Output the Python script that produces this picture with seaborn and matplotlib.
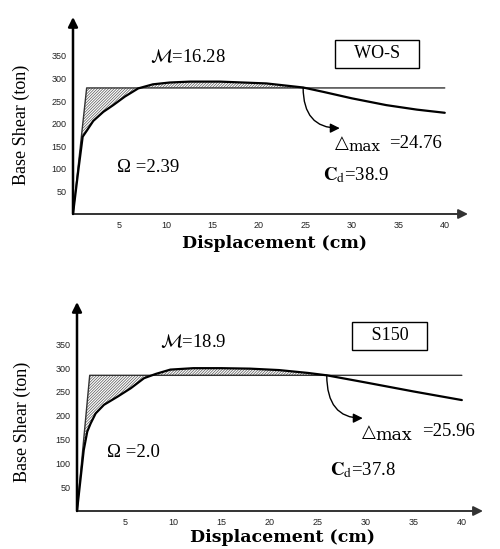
import numpy as np
import pandas as pd
import matplotlib
matplotlib.use("Agg")
import matplotlib.pyplot as plt
import seaborn as sns

# ---------------- data ----------------
# WO-S model
disp_wos = [0, 0.57, 1.04, 1.47, 2.18, 3.26, 4.33, 5.59, 7.02, 8.6, 10.4, 12.6, 15.8, 20.8,
            24.76, 27.0, 30.0, 33.7, 37.0, 40.0]
shear_wos = [0, 96, 171, 184, 206, 226, 241, 260, 278, 287, 291, 293, 293, 289,
             280, 270, 256, 241, 231, 224]
bilin_x_wos = [0, 1.47, 40]
bilin_y_wos = [0, 279, 279]

# S150 model
disp_s150 = [0, 0.7, 1.07, 1.42, 1.94, 2.8, 4.2, 5.6, 6.97, 8.2, 9.7, 12.1, 15.0, 18.0,
             21.0, 24.0, 25.96, 30.0, 35.0, 40.0]
shear_s150 = [0, 128, 167, 184, 205, 223, 240, 258, 279, 288, 297, 300, 300, 299,
              296, 290, 285, 270, 251, 233]
bilin_x_s150 = [0, 1.32, 40]
bilin_y_s150 = [0, 285, 285]

xticks = [5, 10, 15, 20, 25, 30, 35, 40]
yticks = [50, 100, 150, 200, 250, 300, 350]

panels = [
    dict(name="WO-S", x=disp_wos, y=shear_wos, bx=bilin_x_wos, by=bilin_y_wos,
         mu="16.28", omega="2.39", dmax=24.76, cd="38.9"),
    dict(name="S150", x=disp_s150, y=shear_s150, bx=bilin_x_s150, by=bilin_y_s150,
         mu="18.9", omega="2.0", dmax=25.96, cd="37.8"),
]

# ---------------- style ----------------
sns.set_style("white")
plt.rcParams["font.family"] = ["Liberation Serif", "DejaVu Serif"]
plt.rcParams["mathtext.fontset"] = "stix"
plt.rcParams["text.color"] = "black"
plt.rcParams["hatch.linewidth"] = 0.5
plt.rcParams["hatch.color"] = "#555555"

fig = plt.figure(figsize=(5.0, 5.49), dpi=100)

# layout (figure fractions)
ax_rects = [
    [73 / 500, 1 - 214 / 549, 395 / 500, 197 / 549],
    [77 / 500, 1 - 511 / 549, 406 / 500, 209 / 549],
]
xlims = [(0, 42.5), (0, 42.2)]
ylims = [(0, 436), (0, 439)]

# annotation placement (data coords) per panel
ann = [
    dict(mu=(8.3, 347), om=(4.7, 104), tri=(28.2, 157), mx=(29.6, 149), eq=(34.0, 157),
         cdp=(26.9, 86), box=(32.7, 355), arr=(28.7, 190)),
    dict(mu=(8.6, 355), om=(3.1, 122), tri=(29.6, 166), mx=(31.0, 158), eq=(35.9, 166),
         cdp=(26.3, 86), box=(32.5, 368), arr=(29.7, 195)),
]
max_size = [11, 12.5]
xlabel_pos = [(274 / 500, 1 - 243 / 549), (283 / 500, 1 - 537 / 549)]
ylabel_pos = [(21 / 500, 1 - 125 / 549), (22 / 500, 1 - 422 / 549)]

for i, p in enumerate(panels):
    ax = fig.add_axes(ax_rects[i])
    df = pd.DataFrame({"d": p["x"], "v": p["y"]})
    dfb = pd.DataFrame({"d": p["bx"], "v": p["by"]})
    sns.lineplot(data=dfb, x="d", y="v", ax=ax, color="#333333", lw=1.0, sort=False)
    sns.lineplot(data=df, x="d", y="v", ax=ax, color="black", lw=1.6, sort=False)

    # hatched area between bilinear idealisation and capacity curve
    xs = np.array(sorted(set(p["x"]) | set(p["bx"])), dtype=float)
    cy = np.interp(xs, p["x"], p["y"])
    by = np.interp(xs, p["bx"], p["by"])
    ax.fill_between(xs, cy, by, where=xs <= p["dmax"] + 1e-9, facecolor="none",
                    edgecolor="#555555", hatch="////////////", lw=0, interpolate=True)

    ax.set_xlim(*xlims[i])
    ax.set_ylim(*ylims[i])
    ax.set_xticks(xticks)
    ax.set_yticks(yticks)
    ax.set_xticklabels([str(t) for t in xticks], fontfamily="Liberation Sans", fontsize=6.5, color="#222222")
    ax.set_yticklabels([str(t) for t in yticks], fontfamily="Liberation Sans", fontsize=6.5, color="#222222")
    ax.tick_params(axis="x", direction="in", length=2, width=1, pad=5, color="#222222")
    ax.tick_params(axis="y", direction="out", length=3, width=0.8, pad=1.5, color="#222222")
    ax.set_xlabel("")
    ax.set_ylabel("")
    for s in ax.spines.values():
        s.set_visible(False)
    ax.patch.set_alpha(0)

    # axes with arrow heads
    ax.annotate("", xy=(1, 0), xytext=(0, 0), xycoords="axes fraction", textcoords="axes fraction",
                arrowprops=dict(arrowstyle="-|>", color="#333333", lw=1.4, mutation_scale=14,
                                shrinkA=0, shrinkB=0), annotation_clip=False)
    ax.annotate("", xy=(0, 1), xytext=(0, 0), xycoords="axes fraction", textcoords="axes fraction",
                arrowprops=dict(arrowstyle="-|>", color="black", lw=1.8, mutation_scale=14,
                                shrinkA=0, shrinkB=0), annotation_clip=False)

    a = ann[i]
    ax.text(*a["mu"], r"$\mathcal{M}$=" + p["mu"], fontsize=13.5, ha="left", va="center")
    ax.text(*a["om"], "Ω =" + p["omega"], fontsize=13.5, ha="left", va="center")
    ax.text(*a["tri"], "△", fontfamily="DejaVu Sans", fontsize=13, ha="left", va="center")
    ax.text(*a["mx"], "max", fontfamily="DejaVu Serif", fontsize=max_size[i], ha="left", va="center")
    ax.text(*a["eq"], "=" + f"{p['dmax']:.2f}", fontsize=13.5, ha="left", va="center")
    ax.text(*a["cdp"], r"$\mathbf{C}_{\mathrm{d}}$=" + p["cd"], fontsize=13.5, ha="left", va="center")
    ax.text(*a["box"], "   " + p["name"] + "   ", fontsize=13, ha="center", va="center",
            bbox=dict(boxstyle="square,pad=0.3", facecolor="white", edgecolor="black", lw=1))
    ax.annotate("", xy=a["arr"], xytext=(p["dmax"], np.interp(p["dmax"], p["x"], p["y"])),
                arrowprops=dict(arrowstyle="-|>", color="black", lw=1.0, mutation_scale=14,
                                shrinkA=0, shrinkB=0,
                                connectionstyle="angle3,angleA=90,angleB=0"))

    fig.text(*xlabel_pos[i], "Displacement (cm)", fontfamily="DejaVu Serif", fontweight="bold",
             fontsize=12.5, ha="center", va="center")
    fig.text(*ylabel_pos[i], "Base Shear (ton)", fontsize=13, rotation=90, ha="center", va="center")

fig.savefig("out.png", dpi=100, facecolor="white")
